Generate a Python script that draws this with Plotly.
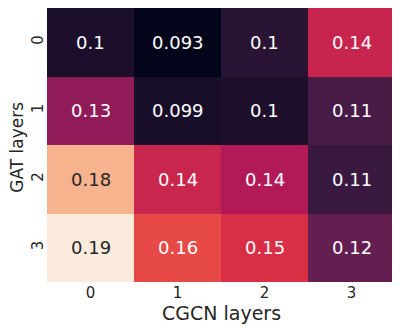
import plotly.graph_objects as go

gat_layers = ["0", "1", "2", "3"]
cgcn_layers = ["0", "1", "2", "3"]
# underlying values (colour), labels shown rounded to 2 significant digits
values = [
    [0.0996, 0.0930, 0.1035, 0.1415],
    [0.1280, 0.0990, 0.1005, 0.1110],
    [0.1760, 0.1420, 0.1360, 0.1080],
    [0.1900, 0.1530, 0.1460, 0.1180],
]
labels = [
    ["0.1", "0.093", "0.1", "0.14"],
    ["0.13", "0.099", "0.1", "0.11"],
    ["0.18", "0.14", "0.14", "0.11"],
    ["0.19", "0.16", "0.15", "0.12"],
]

rocket = [
    [0.0, "#03051a"], [0.143, "#35193e"], [0.286, "#701f57"],
    [0.429, "#ad1759"], [0.571, "#e13342"], [0.714, "#f37651"],
    [0.857, "#f6b48f"], [1.0, "#faebdd"],
]

fig = go.Figure(go.Heatmap(
    z=values, x=cgcn_layers, y=gat_layers,
    colorscale=rocket, showscale=False, xgap=0, ygap=0,
))

zmin = min(min(r) for r in values)
zmax = max(max(r) for r in values)
for i, row in enumerate(values):
    for j, v in enumerate(row):
        light = (v - zmin) / (zmax - zmin) > 0.8
        fig.add_annotation(
            x=cgcn_layers[j], y=gat_layers[i], text=labels[i][j], showarrow=False,
            font=dict(size=18, color="#262626" if light else "white"),
        )

# axis titles as annotations so they sit where seaborn puts them
fig.add_annotation(
    text="CGCN layers", xref="paper", yref="paper", x=0.5, y=0,
    yshift=-31, yanchor="middle", showarrow=False, font=dict(size=19),
)
fig.add_annotation(
    text="GAT layers", xref="paper", yref="paper", x=0, y=0.49,
    xshift=-30, xanchor="center", textangle=-90, showarrow=False,
    font=dict(size=17),
)

# page body adds an 8px offset, so the figure is sized to the visible area
fig.update_layout(
    width=392, height=320,
    margin=dict(l=39, r=5, t=0, b=46),
    paper_bgcolor="white", plot_bgcolor="white",
    font=dict(family="DejaVu Sans", color="#262626"),
)
fig.update_xaxes(
    tickfont=dict(size=15), ticks="", showgrid=False, zeroline=False,
    automargin=False,
)
fig.update_yaxes(
    tickfont=dict(size=15), ticks="", tickangle=-90, autorange="reversed",
    showgrid=False, zeroline=False, automargin=False, ticklabelstandoff=0,
)

fig.write_html("out.html")
